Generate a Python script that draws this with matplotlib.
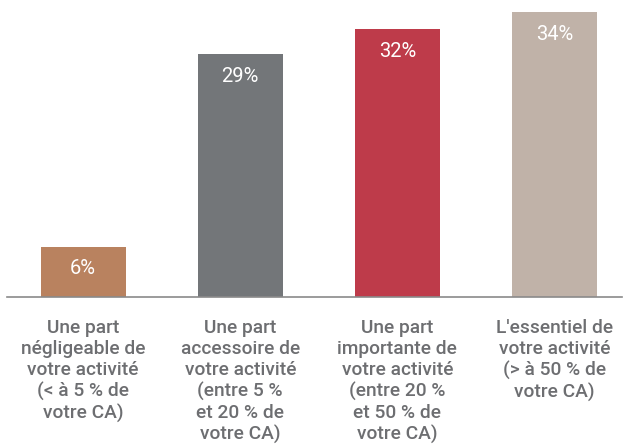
import matplotlib
matplotlib.use("Agg")
import matplotlib.pyplot as plt

categories = [
    "Une part\nnégligeable de\nvotre activité\n(< à 5 % de\nvotre CA)",
    "Une part\naccessoire de\nvotre activité\n(entre 5 %\net 20 % de\nvotre CA)",
    "Une part\nimportante de\nvotre activité\n(entre 20 %\net 50 % de\nvotre CA)",
    "L'essentiel de\nvotre activité\n(> à 50 % de\nvotre CA)",
]
values = [6, 29, 32, 34]
value_labels = ["6%", "29%", "32%", "34%"]
colors = ["#B9825F", "#737679", "#BE3B4A", "#C0B2A8"]

plt.rcParams['font.family'] = ['Roboto', 'DejaVu Sans']

fig = plt.figure(figsize=(6.24, 4.48), dpi=100)
ax = fig.add_axes([7/624, 1 - 297/448, (622-7)/624, 297/448])
x = list(range(len(values)))
ax.bar(x, values, width=85/157, color=colors)
ax.set_xlim(-0.485, 3.43)
ax.set_ylim(0, 35.44)

for xi, v, lab in zip(x, values, value_labels):
    ax.annotate(lab, (xi, v), xytext=(0, -16), textcoords="offset points",
                ha="center", va="center", color="white", fontsize=14.5)

ax.set_xticks(x)
ax.set_xticklabels(categories, fontsize=13.8, color="#6d6e71", linespacing=1.2,
                   fontweight="medium")
ax.tick_params(axis="x", length=0, pad=16)
ax.set_yticks([])
for s in ["top", "right", "left"]:
    ax.spines[s].set_visible(False)
ax.spines["bottom"].set_color("#8a8a8a")
ax.spines["bottom"].set_linewidth(1.2)

fig.savefig("out.png", dpi=100)
